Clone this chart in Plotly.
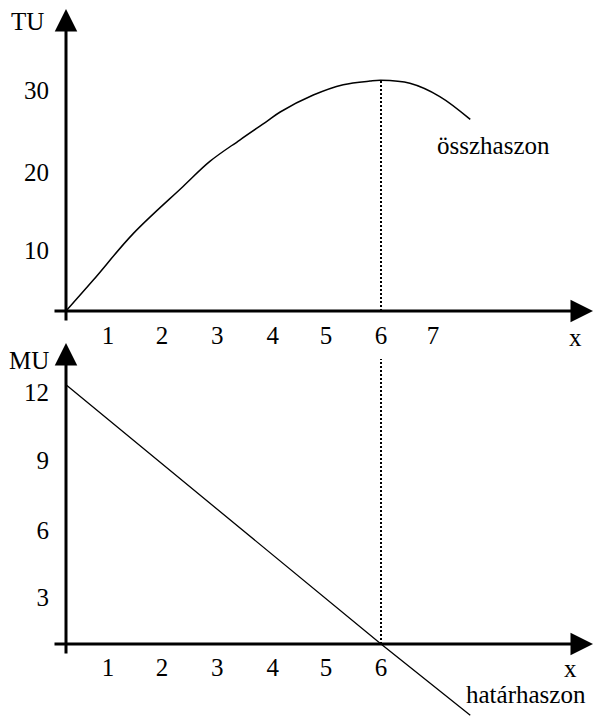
import plotly.graph_objects as go

# ---- data ----
TU_X = [0, 0.52, 1.28, 2.23, 2.74, 3.31, 3.82, 4.08, 4.71, 5.28, 5.79, 6.0, 6.55, 7.12, 7.7]
TU_Y = [0, 4.2, 10.5, 16.9, 20.3, 23.2, 25.7, 27.0, 29.3, 30.7, 31.2, 31.3, 30.9, 29.1, 26.0]

MU_X = [0, 6, 7.7]
MU_Y = [12, 0, -3.3]

OPT_X = 6
TU_MAX = 31.3
MU_DOT_TOP = 13.2

X_TICK_VALS_TOP = [0.80, 1.83, 2.88, 3.94, 4.95, 6.0, 6.99]
X_TICK_TEXT_TOP = ["1", "2", "3", "4", "5", "6", "7"]
X_TICK_VALS_BOT = [0.80, 1.83, 2.88, 3.94, 4.95, 6.0]
X_TICK_TEXT_BOT = ["1", "2", "3", "4", "5", "6"]
TU_TICK_VALS = [8.28, 18.86, 29.99]
TU_TICK_TEXT = ["10", "20", "30"]
MU_TICK_VALS = [2.18, 5.28, 8.52, 11.67]
MU_TICK_TEXT = ["3", "6", "9", "12"]

FONT = dict(family="Liberation Serif, Times New Roman, serif", size=25, color="black")

W, H = 595, 718

fig = go.Figure()

fig.add_trace(go.Scatter(x=TU_X, y=TU_Y, mode="lines", line=dict(color="black", width=1.5, shape="spline", smoothing=1.0),
                         xaxis="x", yaxis="y", hoverinfo="skip"))
fig.add_trace(go.Scatter(x=[OPT_X, OPT_X], y=[0, TU_MAX], mode="lines", line=dict(color="black", width=2, dash="2px,2px"),
                         xaxis="x", yaxis="y", hoverinfo="skip"))
fig.add_trace(go.Scatter(x=MU_X, y=MU_Y, mode="lines", line=dict(color="black", width=1.3),
                         xaxis="x2", yaxis="y2", hoverinfo="skip"))
fig.add_trace(go.Scatter(x=[OPT_X, OPT_X], y=[0, MU_DOT_TOP], mode="lines", line=dict(color="black", width=2, dash="2px,2px"),
                         xaxis="x2", yaxis="y2", hoverinfo="skip"))

xr = [-66 / 52.5, (W - 66) / 52.5]
top_split = 1 - 330 / H
y_top_range = [(311 - 330) / 7.37, 311 / 7.37]
y_bot_range = [(644 - 718) / 21.6, (644 - 330) / 21.6]

common_x = dict(range=xr, domain=[0, 1], showgrid=False, zeroline=False, showline=False, ticks="",
                tickfont=FONT, anchor="free", ticklabelstandoff=6, fixedrange=True)
common_y = dict(showgrid=False, zeroline=False, showline=False, ticks="", tickfont=FONT,
                anchor="free", position=66 / W, ticklabelstandoff=17, fixedrange=True)

fig.update_layout(
    width=W, height=H, margin=dict(l=0, r=0, t=0, b=0),
    paper_bgcolor="white", plot_bgcolor="white", showlegend=False,
    xaxis=dict(**common_x, position=1 - 311.7 / H, tickvals=X_TICK_VALS_TOP, ticktext=X_TICK_TEXT_TOP),
    yaxis=dict(**common_y, domain=[top_split, 1], range=y_top_range, tickvals=TU_TICK_VALS, ticktext=TU_TICK_TEXT),
    xaxis2=dict(**common_x, position=1 - 644 / H, tickvals=X_TICK_VALS_BOT, ticktext=X_TICK_TEXT_BOT),
    yaxis2=dict(**common_y, domain=[0, top_split], range=y_bot_range, tickvals=MU_TICK_VALS, ticktext=MU_TICK_TEXT),
)

arrow = dict(showarrow=True, arrowhead=2, arrowsize=1.5, arrowwidth=3, arrowcolor="black", text="")
ann = [
    # top axes
    dict(**arrow, x=(593 - 66) / 52.5, y=0, ax=(53 - 66) / 52.5, ay=0, xref="x", yref="y", axref="x", ayref="y"),
    dict(**arrow, x=0, y=(311 - 9) / 7.37, ax=0, ay=(311 - 322) / 7.37, xref="x", yref="y", axref="x", ayref="y"),
    # bottom axes
    dict(**arrow, x=(593 - 66) / 52.5, y=0, ax=(53 - 66) / 52.5, ay=0, xref="x2", yref="y2", axref="x2", ayref="y2"),
    dict(**arrow, x=0, y=(644 - 343) / 21.6, ax=0, ay=(644 - 655) / 21.6, xref="x2", yref="y2", axref="x2", ayref="y2"),
]

labels = [
    ("TU", 27, 21), ("MU", 29, 360), ("összhaszon", 493, 145),
    ("x", 575, 337), ("x", 570, 668), ("határhaszon", 526, 694),
]
for txt, px, py in labels:
    ann.append(dict(text=txt, x=px / W, y=1 - py / H, xref="paper", yref="paper",
                    xanchor="center", yanchor="middle", showarrow=False, font=FONT))

fig.update_layout(annotations=ann)

fig.write_html("out.html", config={"displayModeBar": False},
               post_script="document.body.style.margin='0';document.body.style.overflow='hidden';")
